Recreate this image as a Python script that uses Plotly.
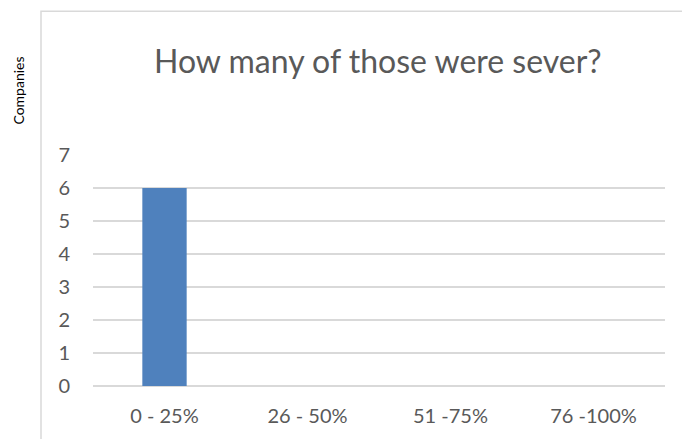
import plotly.graph_objects as go

categories = ["0 - 25%", "26 - 50%", "51 -75%", "76 -100%"]
values = [6, 0, 0, 0]
y_ticks = [0, 1, 2, 3, 4, 5, 6, 7]

W, H = 682, 439
L, R, T, B = 93, 17, 155, 51
pw, ph = W - L - R, H - T - B

def px_x(px):
    return (px - L) / pw

def px_y(py):
    return (H - B - py) / ph

fig = go.Figure()
fig.add_trace(go.Bar(x=categories, y=values, marker_color="#4f81bd",
                     marker_line_width=0))

fig.update_layout(
    width=W, height=H,
    margin=dict(l=L, r=R, t=T, b=B),
    paper_bgcolor="white", plot_bgcolor="white",
    bargap=0.69,
    showlegend=False,
    font=dict(family="Lato", color="#595959"),
    xaxis=dict(showgrid=False, showline=False, zeroline=False,
               tickfont=dict(size=20, color="#595959"),
               ticklabelstandoff=16),
    yaxis=dict(range=[0, 7], tickvals=y_ticks, showgrid=True,
               gridcolor="#d9d9d9", gridwidth=1.5,
               zeroline=True, zerolinecolor="#d9d9d9", zerolinewidth=1.5,
               showline=False,
               tickfont=dict(size=20, color="#595959"),
               ticklabelstandoff=22),
    shapes=[dict(type="rect", xref="paper", yref="paper",
                 x0=px_x(41), x1=px_x(700), y0=px_y(460), y1=px_y(10),
                 line=dict(color="#d9d9d9", width=1.5), fillcolor="rgba(0,0,0,0)",
                 layer="below")],
    annotations=[
        dict(text="How many of those were sever?", xref="paper", yref="paper",
             x=px_x(378), y=px_y(60), xanchor="center", yanchor="middle",
             showarrow=False, font=dict(size=32, color="#595959", family="Lato")),
        dict(text="Companies", xref="paper", yref="paper",
             x=px_x(19), y=px_y(90), xanchor="center", yanchor="middle",
             textangle=-90, showarrow=False,
             font=dict(size=14, color="#000000", family="Lato")),
    ],
)

fig.write_html("out.html")
